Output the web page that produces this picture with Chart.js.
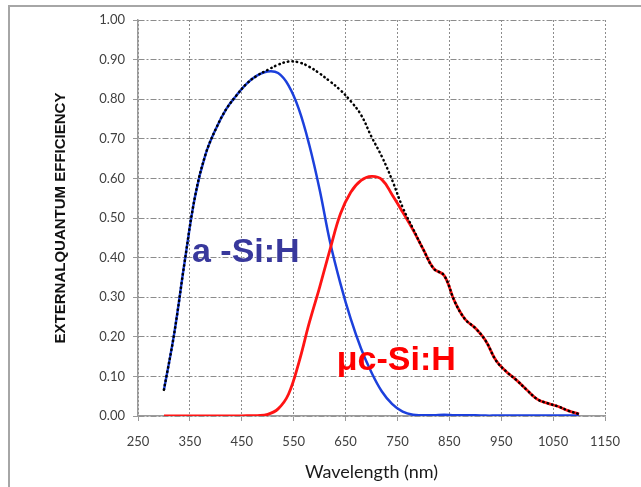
<!DOCTYPE html>
<html lang="en">
<head>
    <meta charset="UTF-8">
    <title>External Quantum Efficiency</title>
    <style>
        body {
            margin: 0;
            background: #fff;
        }
        .frame {
            position: absolute;
            left: 8px;
            top: 5px;
            width: 700px;
            height: 600px;
            border: 2px solid #a6a6a6;
        }
        .wrap {
            position: absolute;
            left: 0;
            top: 0;
            width: 641px;
            height: 487px;
        }
    </style>
    <script src="https://cdn.jsdelivr.net/npm/chart.js"></script>
</head>
<body>
    <div class="frame"></div>
    <div class="wrap"><canvas id="eqeChart" width="641" height="487"></canvas></div>

    <script>
        // wavelength (nm) sample points
        const wavelengths = [300, 320, 340, 360, 380, 400, 420, 440, 460, 480, 500, 520, 540, 560, 580, 600,
            620, 640, 660, 680, 700, 720, 740, 760, 780, 800, 820, 840, 860, 880, 900, 920, 940, 960,
            980, 1000, 1020, 1040, 1060, 1080, 1100];

        // a-Si:H top cell
        const aSiValues = [0.066, 0.21, 0.39, 0.555, 0.66, 0.725, 0.775, 0.81, 0.84, 0.86, 0.87, 0.866, 0.835,
            0.775, 0.685, 0.572, 0.44, 0.335, 0.245, 0.17, 0.11, 0.062, 0.03, 0.011, 0.003, 0.002, 0.002,
            0.003, 0.002, 0.002, 0.002, 0.001, 0.001, 0.001, 0.001, 0.001, 0.001, 0.001, 0.001, 0.001, 0.001];

        // uc-Si:H bottom cell
        const ucSiValues = [0.0, 0.0, 0.0, 0.0, 0.0, 0.0, 0.0, 0.0, 0.001, 0.001, 0.004, 0.018, 0.055,
            0.135, 0.235, 0.325, 0.42, 0.51, 0.565, 0.595, 0.605, 0.597, 0.558, 0.515, 0.47, 0.42, 0.372,
            0.355, 0.29, 0.245, 0.222, 0.19, 0.14, 0.112, 0.09, 0.065, 0.042, 0.032, 0.024, 0.013, 0.005];

        // tandem total (dotted)
        const totalValues = [0.066, 0.21, 0.39, 0.555, 0.66, 0.725, 0.775, 0.81, 0.84, 0.86, 0.874, 0.887, 0.895,
            0.893, 0.882, 0.865, 0.845, 0.823, 0.795, 0.76, 0.705, 0.655, 0.595, 0.527, 0.473, 0.42, 0.372,
            0.355, 0.29, 0.245, 0.222, 0.19, 0.14, 0.112, 0.09, 0.065, 0.042, 0.032, 0.024, 0.013, 0.005];

        const xTicks = [250, 350, 450, 550, 650, 750, 850, 950, 1050, 1150];
        const yTicks = [0, 0.1, 0.2, 0.3, 0.4, 0.5, 0.6, 0.7, 0.8, 0.9, 1.0];

        const curveLabels = [
            { text: 'a -Si:H', x: 354, y: 0.389, color: '#38389c' },
            { text: 'μc-Si:H', x: 633, y: 0.116, color: '#ff0000' }
        ];

        function toPoints(values) {
            return wavelengths.map((w, i) => ({ x: w, y: values[i] }));
        }

        // draws the two cell names inside the plot
        const curveLabelPlugin = {
            id: 'curveLabels',
            afterDatasetsDraw(chart) {
                const ctx = chart.ctx;
                const xs = chart.scales.x;
                const ys = chart.scales.y;
                ctx.save();
                ctx.font = 'bold 34px "Liberation Sans", Arial, sans-serif';
                ctx.textBaseline = 'alphabetic';
                ctx.textAlign = 'left';
                curveLabels.forEach(l => {
                    ctx.fillStyle = l.color;
                    ctx.fillText(l.text, xs.getPixelForValue(l.x), ys.getPixelForValue(l.y));
                });
                ctx.restore();
            }
        };

        const tickFont = { family: 'Lato, "Open Sans", sans-serif', size: 13 };

        new Chart(document.getElementById('eqeChart').getContext('2d'), {
            type: 'line',
            data: {
                datasets: [{
                    label: 'Total',
                    data: toPoints(totalValues),
                    borderColor: '#000',
                    borderWidth: 2.5,
                    borderDash: [0.5, 4],
                    borderCapStyle: 'round',
                    pointRadius: 0,
                    tension: 0.4,
                    order: 0
                }, {
                    label: 'a-Si:H',
                    data: toPoints(aSiValues),
                    borderColor: '#1c40dc',
                    borderWidth: 2.5,
                    pointRadius: 0,
                    tension: 0.4,
                    order: 2
                }, {
                    label: 'uc-Si:H',
                    data: toPoints(ucSiValues),
                    borderColor: '#ff1414',
                    borderWidth: 2.8,
                    pointRadius: 0,
                    tension: 0.4,
                    order: 1
                }]
            },
            options: {
                responsive: false,
                animation: false,
                layout: { padding: { left: 0, top: 20, right: 36, bottom: 0 } },
                plugins: {
                    legend: { display: false },
                    tooltip: { enabled: false }
                },
                scales: {
                    x: {
                        type: 'linear',
                        min: 250,
                        max: 1150,
                        afterBuildTicks: scale => { scale.ticks = xTicks.map(v => ({ value: v })); },
                        afterFit: scale => { scale.height = 71; },
                        ticks: {
                            color: '#404040',
                            font: tickFont,
                            padding: 13,
                            maxRotation: 0,
                            callback: v => String(v)
                        },
                        grid: {
                            color: '#8c8c8c',
                            lineWidth: 1,
                            tickLength: 5,
                            tickColor: '#999',
                            tickBorderDash: []
                        },
                        border: { color: '#9a9a9a', width: 1.5, dash: [2, 2] },
                        title: {
                            display: true,
                            text: 'Wavelength (nm)',
                            color: '#1a1a1a',
                            font: { family: 'Lato, "Open Sans", sans-serif', size: 18, lineHeight: 1 },
                            padding: { top: 0, bottom: 6 }
                        }
                    },
                    y: {
                        min: 0,
                        max: 1,
                        afterBuildTicks: scale => { scale.ticks = yTicks.map(v => ({ value: v })); },
                        afterFit: scale => { scale.width = 138; },
                        ticks: {
                            color: '#404040',
                            font: tickFont,
                            padding: 8,
                            callback: v => v.toFixed(2)
                        },
                        grid: {
                            color: '#8c8c8c',
                            lineWidth: 1,
                            tickLength: 5,
                            tickColor: '#999',
                            tickBorderDash: []
                        },
                        border: { color: '#9a9a9a', width: 1.5, dash: [6, 2, 2, 2] },
                        title: {
                            display: true,
                            text: 'EXTERNALQUANTUM EFFICIENCY',
                            color: '#111',
                            font: { family: '"Liberation Sans", Arial, sans-serif', size: 15, weight: 'bold', lineHeight: 1 },
                            padding: { top: 53, bottom: 0 }
                        }
                    }
                }
            },
            plugins: [curveLabelPlugin]
        });
    </script>
</body>
</html>
